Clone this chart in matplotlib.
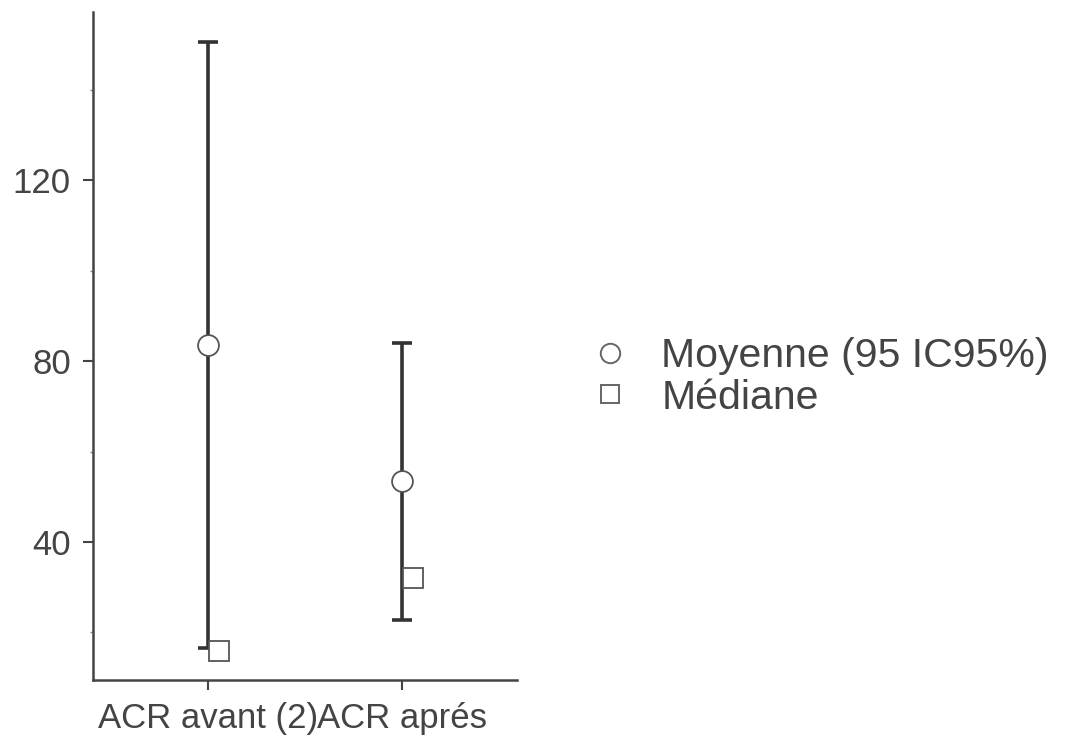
import matplotlib.pyplot as plt
from matplotlib.lines import Line2D
from matplotlib.ticker import MultipleLocator

plt.rcParams['font.family'] = ['Liberation Sans', 'DejaVu Sans']

# valeurs
categories = ["ACR avant (2)", "ACR aprés"]
moyenne = [83.6, 53.4]
ic_bas = [16.6, 22.8]
ic_haut = [150.6, 84.0]
mediane = [16.0, 32.0]

gris = '#333333'
x = [1, 2]

fig = plt.figure(figsize=(10.9, 7.38), dpi=100)
ax = fig.add_axes([0.0853, 0.0786, 0.3887, 0.9054])

err = [[m - b for m, b in zip(moyenne, ic_bas)], [h - m for m, h in zip(moyenne, ic_haut)]]
ax.errorbar(x, moyenne, yerr=err, fmt='none', ecolor=gris, elinewidth=2.6,
            capsize=7, capthick=2.6, zorder=2)
ax.plot(x, moyenne, 'o', ms=15, mfc='white', mec='#555555', mew=1.3, zorder=3)
ax.plot([v + 0.057 for v in x], mediane, 's', ms=14, mfc='white', mec='#555555',
        mew=1.3, zorder=3)

ax.set_xlim(0.404, 2.595)
ax.set_ylim(9.5, 157.2)
ax.set_xticks(x)
ax.set_xticklabels(categories)
ax.set_yticks([40, 80, 120])
ax.yaxis.set_minor_locator(MultipleLocator(20))

for s in ['top', 'right']:
    ax.spines[s].set_visible(False)
for s in ['left', 'bottom']:
    ax.spines[s].set_color('#444444')
    ax.spines[s].set_linewidth(1.8)

ax.tick_params(axis='both', labelsize=25, colors='#444444', labelcolor='#444444',
               width=1.5, length=7, pad=9)
ax.tick_params(axis='y', which='minor', length=2, width=1, colors='#888888')
ax.tick_params(axis='x', which='minor', length=0)

handles = [
    Line2D([], [], marker='o', ls='none', ms=14, mfc='white', mec='#666666', mew=1.4),
    Line2D([], [], marker='s', ls='none', ms=13, mfc='white', mec='#666666', mew=1.4),
]
fig.legend(handles, ["Moyenne (95 IC95%)", "Médiane"], loc='center left',
           bbox_to_anchor=(0.511, 0.489), frameon=False, fontsize=29.5,
           labelspacing=0.08, handletextpad=0.85, handlelength=0.8,
           labelcolor='#444444')

fig.savefig('out.png', dpi=100)
